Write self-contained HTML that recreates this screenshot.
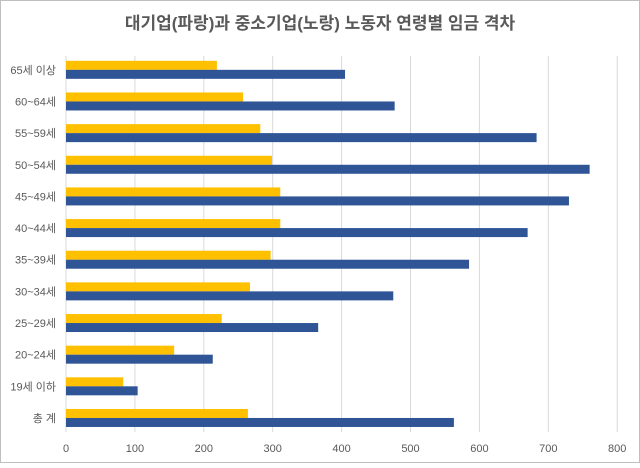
<!DOCTYPE html>
<html><head><meta charset="utf-8"><style>
html,body{margin:0;padding:0;background:#fff;}
</style></head><body>
<svg width="640" height="463" xmlns="http://www.w3.org/2000/svg" font-family="'Liberation Sans','Noto Sans CJK KR',sans-serif">
<rect x="0.5" y="0.5" width="639" height="462" fill="#fff" stroke="#bfbfbf"/>
<text x="320" y="29" text-anchor="middle" font-size="17" font-weight="bold" fill="#595959">대기업(파랑)과 중소기업(노랑) 노동자 연령별 임금 격차</text>
<g id="grid" stroke="#d9d9d9" stroke-width="1"></g>
<g id="bars"></g>
<g id="labels" font-size="11" fill="#595959"></g>
</svg>
<script>
(function(){
var x0=66,s=0.689,t0=54,step=31.65;
var cats=["65세 이상","60~64세","55~59세","50~54세","45~49세","40~44세","35~39세","30~34세","25~29세","20~24세","19세 이하","총 계"];
var yv=[219,257,282,299,311,311,297,267,226,157,83,264];
var bv=[405,477,683,760,730,670,585,475,366,213,104,563];
var ns="http://www.w3.org/2000/svg";
function el(t,a,p,txt){var e=document.createElementNS(ns,t);for(var k in a)e.setAttribute(k,a[k]);if(txt)e.textContent=txt;document.getElementById(p).appendChild(e);}
for(var i=0;i<=8;i++){var x=x0+i*100*s;el("line",{x1:x,x2:x,y1:56,y2:432},"grid");el("text",{x:x,y:452,"text-anchor":"middle"},"labels",String(i*100));}
for(var i=0;i<12;i++){var c=t0+step*(i+0.5);
el("rect",{x:x0,y:c-9,width:yv[i]*s,height:9,fill:"#ffc000"},"bars");
el("rect",{x:x0,y:c,width:bv[i]*s,height:9,fill:"#2f5597"},"bars");
el("text",{x:56,y:c+4,"text-anchor":"end"},"labels",cats[i]);}
})();
</script>
</body></html>
